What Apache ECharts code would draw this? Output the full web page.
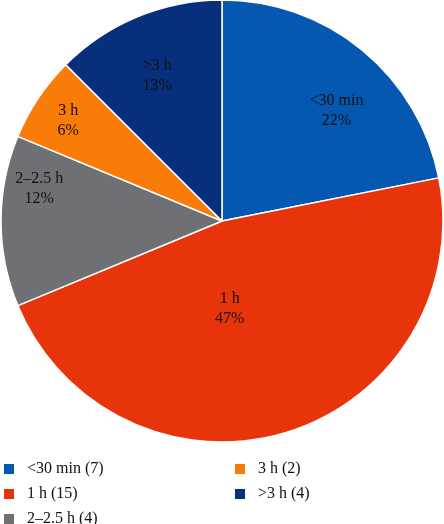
<!DOCTYPE html>
<html>
<head>
<meta charset="utf-8">
<script src="https://cdn.jsdelivr.net/npm/echarts@6/dist/echarts.min.js"></script>
<style>
html,body{margin:0;padding:0;background:#fff;}
#chart{width:444px;height:524px;}
</style>
</head>
<body>
<div id="chart"></div>
<script>
// Data
const categories = ['<30 min', '1 h', '2\u20132.5 h', '3 h', '>3 h'];
const counts = [7, 15, 4, 2, 4];
const percentLabels = [22, 47, 12, 6, 13];

// Styles (not data)
const colors = ['#0458B0', '#E8340A', '#6E7073', '#F97B08', '#072F7C'];
// label placement as polar offsets from pie centre: [angle deg clockwise from top, fraction of radius]
const labelPolar = [[46, 0.72], [175, 0.40], [280, 0.84], [303, 0.83], [336, 0.72]];
// legend slots: [left, top] per category (two columns)
const legendSlots = [[2, 461], [2, 486], [2, 511], [233, 461], [233, 486]];

const cx = 222, cy = 221, R = 221;
const chart = echarts.init(document.getElementById('chart'));
const font = '"Liberation Serif", "DejaVu Serif", serif';

const legends = categories.map((c, i) => ({
  data: [c],
  left: legendSlots[i][0], top: legendSlots[i][1],
  padding: 0,
  itemWidth: 12, itemHeight: 12, icon: 'rect',
  textStyle: { fontFamily: font, fontSize: 16, lineHeight: 12, color: '#111', padding: [0, 0, 0, 7] },
  formatter: n => n + ' (' + counts[categories.indexOf(n)] + ')'
}));

chart.setOption({
  animation: false,
  color: colors,
  legend: legends,
  series: [{
    type: 'pie',
    center: [cx, cy],
    radius: [0, R],
    startAngle: 90,
    clockwise: true,
    avoidLabelOverlap: false,
    itemStyle: { borderColor: '#ffffff', borderWidth: 1.5 },
    label: {
      show: true,
      position: 'inside',
      fontFamily: font,
      fontSize: 16,
      lineHeight: 20,
      color: '#111',
      align: 'center',
      verticalAlign: 'middle',
      formatter: p => p.name + '\n' + percentLabels[p.dataIndex] + '%'
    },
    labelLine: { show: false },
    labelLayout: function (params) {
      const i = params.dataIndex;
      const a = labelPolar[i][0] * Math.PI / 180;
      const d = labelPolar[i][1] * R;
      return { x: cx + d * Math.sin(a), y: cy - d * Math.cos(a), align: 'center', verticalAlign: 'middle' };
    },
    emphasis: { disabled: true },
    data: categories.map((c, i) => ({ name: c, value: counts[i] }))
  }]
});
</script>
</body>
</html>
